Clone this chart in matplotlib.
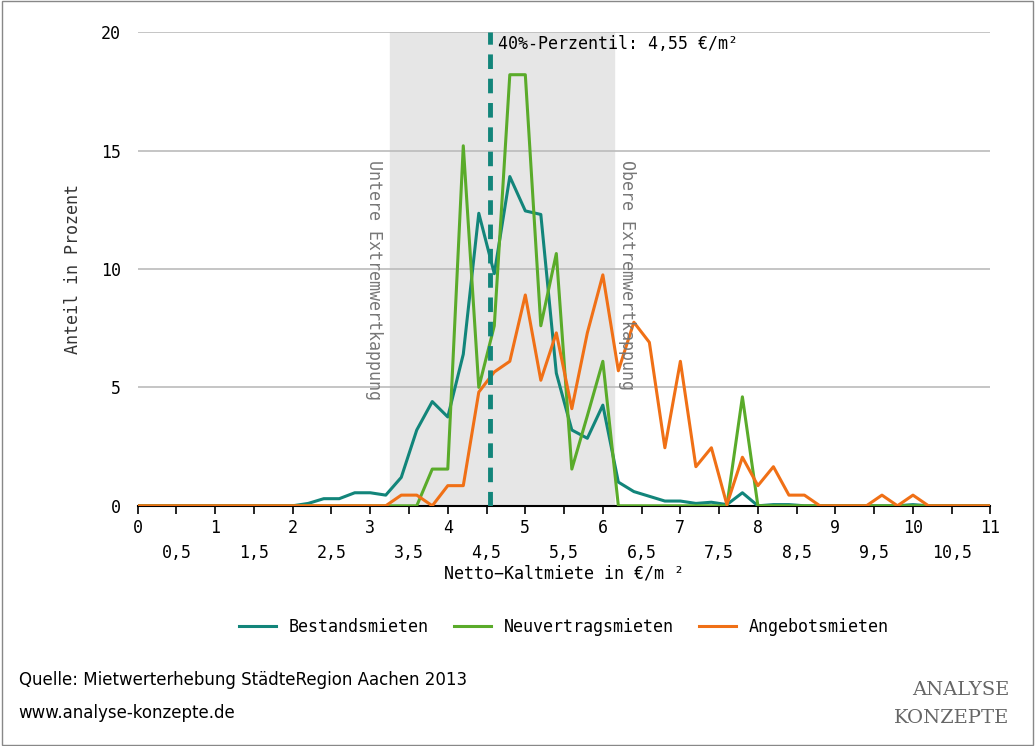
import numpy as np
import matplotlib.pyplot as plt
from matplotlib.patches import Rectangle

# x positions every 0.2 EUR/m2
x = np.round(np.arange(0, 11.01, 0.2), 1)

bestand_pts = {2.2: 0.1, 2.4: 0.3, 2.6: 0.3, 2.8: 0.55, 3.0: 0.55, 3.2: 0.45, 3.4: 1.2,
               3.6: 3.2, 3.8: 4.4, 4.0: 3.75, 4.2: 6.4, 4.4: 12.35, 4.6: 9.8, 4.8: 13.9,
               5.0: 12.45, 5.2: 12.3, 5.4: 5.6, 5.6: 3.2, 5.8: 2.85, 6.0: 4.25, 6.2: 1.0,
               6.4: 0.6, 6.6: 0.4, 6.8: 0.2, 7.0: 0.2, 7.2: 0.1, 7.4: 0.15, 7.6: 0.05,
               7.8: 0.55, 8.0: 0.0, 8.2: 0.05, 8.4: 0.05, 10.0: 0.05}
neu_pts = {3.8: 1.55, 4.0: 1.55, 4.2: 15.2, 4.4: 5.0, 4.6: 7.6, 4.8: 18.2, 5.0: 18.2,
           5.2: 7.6, 5.4: 10.65, 5.6: 1.55, 5.8: 3.8, 6.0: 6.1, 7.8: 4.6}
angebot_pts = {3.4: 0.45, 3.6: 0.45, 4.0: 0.85, 4.2: 0.85, 4.4: 4.8, 4.6: 5.65, 4.8: 6.1,
               5.0: 8.9, 5.2: 5.3, 5.4: 7.3, 5.6: 4.1, 5.8: 7.3, 6.0: 9.75, 6.2: 5.7,
               6.4: 7.75, 6.6: 6.9, 6.8: 2.45, 7.0: 6.1, 7.2: 1.65, 7.4: 2.45, 7.6: 0.05,
               7.8: 2.05, 8.0: 0.85, 8.2: 1.65, 8.4: 0.45, 8.6: 0.45, 9.6: 0.45, 10.0: 0.45}

bestand = [bestand_pts.get(v, 0.0) for v in x]
neu = [neu_pts.get(v, 0.0) for v in x]
angebot = [angebot_pts.get(v, 0.0) for v in x]

band_lo, band_hi = 3.25, 6.15
perzentil = 4.55

c_best = '#12857a'
c_neu = '#5aab2a'
c_ang = '#f07016'
mono = 'DejaVu Sans Mono'

fig = plt.figure(figsize=(10.35, 7.46), dpi=100)
fig.patches.append(Rectangle((0.002, 0.002), 0.996, 0.996, transform=fig.transFigure,
                             fill=False, edgecolor='#888888', lw=1))
ax = fig.add_axes([0.133, 0.322, 0.824, 0.635])

ax.axvspan(band_lo, band_hi, color='#e6e6e6', zorder=0)
ax.set_yticks([0, 5, 10, 15, 20])
ax.yaxis.grid(True, color='#bbbbbb', lw=1.2)
ax.set_axisbelow(True)

ax.plot(x, bestand, color=c_best, lw=2.2, label='Bestandsmieten', zorder=3)
ax.plot(x, neu, color=c_neu, lw=2.2, label='Neuvertragsmieten', zorder=3)
ax.plot(x, angebot, color=c_ang, lw=2.2, label='Angebotsmieten', zorder=3)
ax.axvline(perzentil, color=c_best, lw=3.5, ls=(0, (3, 2)), zorder=4)

ax.set_xlim(0, 11)
ax.set_ylim(0, 20)
for s in ['top', 'right', 'left']:
    ax.spines[s].set_visible(False)
ax.spines['bottom'].set_color('black')
ax.spines['bottom'].set_linewidth(1.5)
ax.tick_params(axis='y', length=0, labelsize=12, pad=12)

xt = np.arange(0, 11.01, 0.5)
ax.set_xticks(xt)
labels = []
for v in xt:
    if v == int(v):
        labels.append(str(int(v)))
    else:
        labels.append('\n' + str(v).replace('.', ','))
ax.set_xticklabels(labels, fontsize=12, linespacing=1.5)
ax.tick_params(axis='x', direction='out', length=6, width=1.2)
for lbl in ax.get_xticklabels() + ax.get_yticklabels():
    lbl.set_family(mono)

ax.set_xlabel('Netto\u2212Kaltmiete in €/m ²', family=mono, fontsize=12, labelpad=2)
ax.set_ylabel('Anteil in Prozent', family=mono, fontsize=12, color='#333333', labelpad=14)

ax.text(perzentil + 0.1, 19.5, '40%-Perzentil: 4,55 €/m²', family=mono, fontsize=12,
        va='center', ha='left', zorder=5)
ax.text(band_lo - 0.32, 14.6, 'Untere Extremwertkappung', family=mono, fontsize=12,
        color='#777777', rotation=270, va='top', ha='left')
ax.text(band_hi + 0.05, 14.6, 'Obere Extremwertkappung', family=mono, fontsize=12,
        color='#777777', rotation=270, va='top', ha='left')

leg = ax.legend(loc='upper center', bbox_to_anchor=(0.5, -0.205), ncol=3, frameon=False,
                prop={'family': mono, 'size': 12}, handlelength=2.2, columnspacing=1.5)

fig.text(0.018, 0.088, 'Quelle: Mietwerterhebung StädteRegion Aachen 2013', fontsize=12, va='center')
fig.text(0.018, 0.044, 'www.analyse-konzepte.de', fontsize=12, va='center')
fig.text(0.975, 0.075, 'ANALYSE', family='DejaVu Serif', fontsize=14, color='#666666',
         ha='right', va='center')
fig.text(0.975, 0.038, 'KONZEPTE', family='DejaVu Serif', fontsize=14, color='#666666',
         ha='right', va='center')

fig.savefig('out.png', dpi=100)
